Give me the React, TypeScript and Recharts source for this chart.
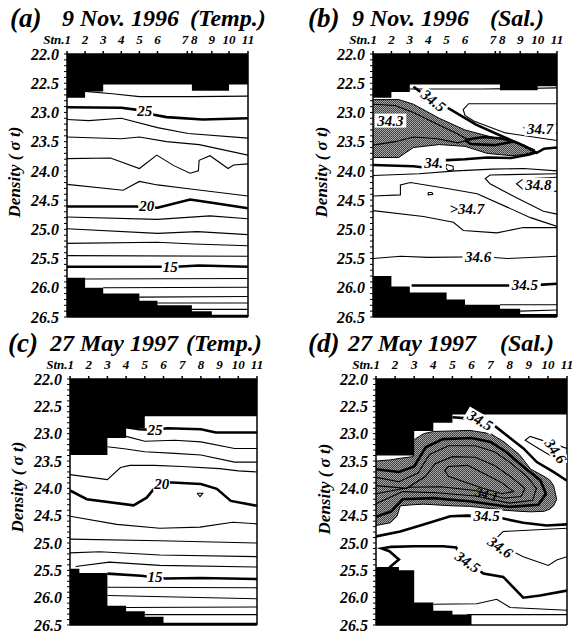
import React from 'react'
import { ComposedChart, XAxis, YAxis, Area, Scatter } from 'recharts'

type Pt = [number, number]
type Band = [number, number, number]
type Tag = [number, number, string, number?, boolean?]

const FONT = '"Liberation Serif", "Times New Roman", serif'

// station positions along each section (0 = Stn.1, 100 = Stn.11)
const STN_NOV = [0, 10, 20, 30, 40, 50, 66.5, 69, 80, 89.5, 100]
const STN_MAY = [0, 10, 20, 30, 40, 50, 60, 70, 80, 90, 100]
const STN_LABELS = ['Stn.1', '2', '3', '4', '5', '6', '7', '8', '9', '10', '11']
const DENSITY_MINOR = [
  22.0, 22.1, 22.2, 22.3, 22.4, 22.5, 22.6, 22.7, 22.8, 22.9,
  23.0, 23.1, 23.2, 23.3, 23.4, 23.5, 23.6, 23.7, 23.8, 23.9,
  24.0, 24.1, 24.2, 24.3, 24.4, 24.5, 24.6, 24.7, 24.8, 24.9,
  25.0, 25.1, 25.2, 25.3, 25.4, 25.5, 25.6, 25.7, 25.8, 25.9,
  26.0, 26.1, 26.2, 26.3, 26.4, 26.5,
]

// ---- (a) 9 Nov 1996 temperature ----
const A_TOP: Pt[] = [[0, 22.75], [10, 22.64], [20, 22.52], [69, 22.63], [89.5, 22.52], [100, 22.52]]
const A_BOT: Pt[] = [[0, 25.83], [10, 26.0], [20, 26.1], [40, 26.22], [50, 26.3], [69, 26.4], [80, 26.46], [100, 26.46]]
const A_26: Pt[] = [[10, 22.64], [25, 22.68], [40, 22.73], [70, 22.73], [100, 22.72]]
const A_25: Pt[] = [[0, 22.91], [30, 22.92], [40, 22.96], [48, 23.04], [55, 23.08], [75, 23.12], [100, 23.1]]
const A_24: Pt[] = [[0, 23.12], [12, 23.14], [30, 23.1], [50, 23.26], [67, 23.36], [100, 23.44]]
const A_23: Pt[] = [[0, 23.42], [30, 23.45], [40, 23.42], [55, 23.5], [73, 23.55], [100, 23.73]]
const A_22: Pt[] = [[0, 23.79], [24, 23.78], [40, 23.96], [49.6, 23.73], [59, 23.91], [68, 24.04], [72.6, 24.0], [73, 23.82], [79, 23.74], [89, 23.96], [92, 23.9], [100, 23.88]]
const A_21: Pt[] = [[0, 24.23], [31, 24.33], [40, 24.18], [50, 24.24], [66, 24.3], [100, 24.43]]
const A_20: Pt[] = [[0, 24.61], [38, 24.61], [50, 24.63], [68, 24.49], [81, 24.55], [100, 24.64]]
const A_19: Pt[] = [[0, 24.79], [50, 24.83], [79, 24.77], [100, 24.82]]
const A_18: Pt[] = [[0, 24.99], [50, 25.07], [72, 25.04], [100, 25.09]]
const A_17: Pt[] = [[0, 25.24], [50, 25.22], [70, 25.25], [100, 25.28]]
const A_16: Pt[] = [[0, 25.45], [100, 25.46]]
const A_15: Pt[] = [[0, 25.64], [60, 25.64], [73, 25.62], [100, 25.64]]
const A_14: Pt[] = [[10, 25.85], [100, 25.84]]
const A_13: Pt[] = [[20, 26.0], [100, 25.99]]
const A_12: Pt[] = [[40, 26.16], [100, 26.15]]
const A_11: Pt[] = [[50, 26.26], [100, 26.26]]
const A_10: Pt[] = [[69, 26.37], [100, 26.37]]
const A_TAGS: Tag[] = [[43, 22.98, '25'], [44, 24.6, '20'], [57, 25.64, '15']]

// ---- (b) 9 Nov 1996 salinity ----
const B_TOP: Pt[] = [[0, 22.75], [10, 22.65], [20, 22.52], [69, 22.62], [89.5, 22.55], [100, 22.55]]
const B_BOT: Pt[] = [[0, 25.8], [10, 25.98], [20, 26.08], [40, 26.2], [50, 26.29], [69, 26.36], [80, 26.45], [100, 26.45]]
const B_LOW: Band[] = [[0, 22.78, 23.77], [14, 22.78, 23.77], [22, 22.86, 23.6], [36, 23.1, 23.55], [50, 23.3, 23.58], [62, 23.4, 23.7], [75, 23.5, 23.74], [82, 23.56, 23.72], [88, 23.64, 23.67]]
const B_TOPLINE: Pt[] = [[20, 22.6], [60, 22.6], [100, 22.58]]
const B_345A: Pt[] = [[22, 22.56], [28, 22.7], [33, 22.82], [40, 22.91], [56, 23.21], [71, 23.42], [82, 23.57], [89, 23.69], [93, 23.62], [100, 23.6]]
const B_343: Pt[] = [[0, 22.86], [12, 22.88], [22, 23.0], [35, 23.2], [45, 23.35], [52, 23.47], [46, 23.52], [35, 23.45], [22, 23.42], [12, 23.5], [0, 23.56]]
const B_CORE: Pt[] = [[50, 23.47], [60, 23.42], [72, 23.45], [76, 23.5], [66, 23.56], [53, 23.54], [50, 23.47]]
const B_347A: Pt[] = [[100, 22.85], [52, 22.85], [49, 22.95], [50, 23.05], [55, 23.15], [72, 23.35], [100, 23.48]]
const B_347B: Pt[] = [[100, 23.2], [85, 23.19], [82, 23.26], [85, 23.33], [100, 23.35]]
const B_345B: Pt[] = [[0, 23.9], [22, 23.92], [30, 23.95], [38, 23.82], [50, 23.8], [62, 23.77], [75, 23.78], [85, 23.72], [89, 23.68]]
const B_DOT: Pt[] = [[40, 23.89], [43.5, 23.92], [43.7, 23.98], [41, 24.0], [39.5, 23.95], [40, 23.89]]
const B_346A: Pt[] = [[0, 24.08], [25, 24.05], [45, 24.0], [65, 23.97], [82, 23.96], [100, 24.0]]
const B_348A: Pt[] = [[100, 24.05], [63.6, 24.07], [61, 24.13], [63.6, 24.22], [78, 24.46], [92.6, 24.69], [100, 24.74]]
const B_348B: Pt[] = [[100, 24.11], [81.7, 24.14], [78, 24.22], [81.7, 24.32], [100, 24.35]]
const B_347C: Pt[] = [[0, 24.43], [14.9, 24.41], [14.9, 24.24], [20.3, 24.2], [40.3, 24.3], [56.6, 24.39], [72.9, 24.62], [85.6, 24.8], [100, 24.95]]
const B_DOT2: Pt[] = [[30, 24.37], [32, 24.37], [32.5, 24.4], [30, 24.41], [30, 24.37]]
const B_347D: Pt[] = [[0, 24.68], [27.4, 24.78], [43.7, 24.88], [49.1, 25.02], [67.3, 25.06], [81.7, 24.97], [100, 24.97]]
const B_346B: Pt[] = [[0, 25.5], [15, 25.46], [30, 25.48], [60, 25.47], [73, 25.5], [100, 25.46]]
const B_345C: Pt[] = [[21, 25.96], [70, 25.96], [82, 25.96], [90, 25.95], [100, 25.93]]
const B_344A: Pt[] = [[69, 26.29], [100, 26.29]]
const B_344B: Pt[] = [[80, 26.4], [100, 26.38]]
const B_TAGS: Tag[] = [[32.8, 22.8, '34.5', 38], [9.5, 23.14, '34.3'], [90.8, 23.28, '34.7'], [33, 23.87, '34.'], [89.9, 24.24, '34.8'], [51, 24.66, '>34.7'], [57.2, 25.47, '34.6'], [82.6, 25.96, '34.5']]

// ---- (c) 27 May 1997 temperature ----
const C_TOP: Pt[] = [[0, 23.39], [20, 23.08], [30, 22.9], [40, 22.68], [100, 22.68]]
const C_BOT: Pt[] = [[0, 25.47], [5, 25.55], [20, 26.15], [30, 26.25], [40, 26.35], [50, 26.46], [100, 26.46]]
const C_25: Pt[] = [[30, 22.88], [37, 22.92], [45, 22.93], [52, 22.9], [70, 22.92], [78, 22.98], [100, 22.98]]
const C_24: Pt[] = [[30, 23.05], [40, 23.14], [56, 23.12], [70, 23.15], [88, 23.27], [100, 23.27]]
const C_23: Pt[] = [[20, 23.24], [30, 23.28], [40, 23.33], [56, 23.36], [70, 23.39], [88, 23.52], [100, 23.52]]
const C_22: Pt[] = [[0, 23.75], [20, 23.84], [27, 23.62], [32, 23.58], [45, 23.58], [60, 23.6], [80, 23.64], [90, 23.68], [100, 23.7]]
const C_20: Pt[] = [[0, 24.04], [9, 24.2], [34, 24.31], [41, 24.17], [44.6, 24.02], [49, 23.93], [52, 23.89], [70, 23.92], [78.5, 24.01], [86, 24.23], [100, 24.32]]
const C_20B: Pt[] = [[68, 24.09], [71, 24.09], [69.5, 24.15], [68, 24.09]]
const C_19: Pt[] = [[0, 24.51], [25, 24.66], [48, 24.73], [69.5, 24.71], [87, 24.62], [100, 24.65]]
const C_18: Pt[] = [[0, 24.93], [48, 24.96], [100, 25.0]]
const C_17: Pt[] = [[0, 25.18], [16, 25.16], [48, 25.22], [100, 25.25]]
const C_16: Pt[] = [[3, 25.43], [21, 25.35], [48, 25.41], [100, 25.44]]
const C_15: Pt[] = [[20, 25.56], [38, 25.6], [51, 25.65], [70, 25.64], [100, 25.66]]
const C_14: Pt[] = [[20, 25.81], [100, 25.82]]
const C_13: Pt[] = [[20, 25.96], [100, 26.02]]
const C_12: Pt[] = [[30, 26.18], [100, 26.17]]
const C_11: Pt[] = [[40, 26.31], [100, 26.31]]
const C_TAGS: Tag[] = [[45.5, 22.93, '25'], [49, 23.92, '20'], [45.5, 25.62, '15']]

// ---- (d) 27 May 1997 salinity ----
const D_TOP: Pt[] = [[0, 23.4], [20, 22.95], [30, 22.8], [40, 22.65], [100, 22.65]]
const D_BOT: Pt[] = [[0, 25.44], [12, 25.5], [20, 26.09], [30, 26.24], [40, 26.31], [50, 26.5], [100, 26.5]]
const D_LOW: Band[] = [[0, 23.5, 24.68], [7.5, 23.48, 24.63], [11, 23.46, 24.51], [12.7, 23.45, 24.32], [19.5, 23.42, 24.3], [19.5, 23.12, 24.3], [25, 23.0, 24.29], [30, 22.96, 24.3], [40, 22.95, 24.32], [49, 22.94, 24.33], [60, 23.0, 24.37], [67, 23.15, 24.4], [75, 23.38, 24.42], [81, 23.65, 24.43], [88, 23.78, 24.42], [91, 23.85, 24.38], [93, 23.95, 24.32], [94.6, 24.2, 24.2]]
const D_345A: Pt[] = [[40, 22.7], [48, 22.72], [54.5, 22.74], [61.5, 22.84], [70.2, 23.08], [77.2, 23.27], [84.2, 23.52], [92.9, 23.7], [100, 23.86]]
const D_346A: Pt[] = [[100, 23.27], [80.7, 23.05], [78.1, 23.12], [85.1, 23.27], [92.9, 23.43], [100, 23.52]]
const D_345B: Pt[] = [[0, 24.88], [12.7, 24.79], [24.9, 24.66], [38.9, 24.51], [47.6, 24.5], [57.9, 24.51], [64.9, 24.54], [77.1, 24.63], [89.3, 24.68], [100, 24.66]]
const D_346B: Pt[] = [[100, 24.73], [66.6, 24.79], [64, 24.88], [58.8, 25.0], [66.6, 25.07], [77.1, 25.25], [90.2, 25.41], [94.6, 25.31], [100, 25.25]]
const D_345C: Pt[] = [[7, 25.45], [12, 25.3], [7, 25.15], [3, 25.1], [8, 25.07], [20, 25.06], [35, 25.06], [42, 25.08], [44, 25.25], [47.6, 25.33], [56.2, 25.56], [66.6, 25.62], [77.1, 26.0], [85.9, 25.96], [100, 25.87]]
const D_344A: Pt[] = [[30, 26.12], [52.7, 26.11], [63.2, 26.03], [70.2, 26.18], [100, 26.23]]
const D_344B: Pt[] = [[47.6, 26.31], [100, 26.31]]
const D_344: Pt[] = [[0, 23.65], [12, 23.7], [20, 23.6], [26, 23.25], [35, 23.1], [50, 23.08], [60, 23.15], [68, 23.33], [77, 23.6], [86, 23.85], [89, 24.1], [85, 24.3], [70, 24.34], [50, 24.24], [30, 24.18], [14, 24.2], [8, 24.42], [0, 24.52]]
const D_343: Pt[] = [[0, 23.8], [12, 23.88], [22, 23.72], [28, 23.38], [38, 23.22], [52, 23.22], [62, 23.33], [70, 23.52], [79, 23.78], [84, 24.0], [82, 24.22], [70, 24.27], [52, 24.14], [32, 24.08], [14, 24.06], [0, 24.28]]
const D_342: Pt[] = [[0, 23.95], [16, 24.0], [26, 23.78], [31, 23.55], [40, 23.42], [52, 23.43], [62, 23.58], [71, 23.8], [78, 24.0], [76, 24.15], [67, 24.18], [52, 24.04], [34, 23.97], [18, 23.98], [0, 24.1]]
const D_341: Pt[] = [[38, 23.6], [48, 23.58], [56, 23.72], [66, 23.9], [72, 24.06], [66, 24.1], [56, 24.0], [46, 23.88], [38, 23.78], [36, 23.68], [38, 23.6]]
const D_TAGS: Tag[] = [[54.5, 22.76, '34.5', 30], [94, 23.32, '34.6', 55], [57.9, 24.51, '34.5'], [65, 25.08, '34.6', 35], [48, 25.35, '34.5', 35], [58, 24.1, '34.1', 15, true]]

const pts = (a: Pt[]) => a.map(([x, y]) => ({ x, y }))

function StnTick(props: any) {
  const { x, y, payload, stn, split } = props
  const i = stn.indexOf(payload.value)
  let anchor = 'middle'
  let dx = 0
  if (i === 0) { anchor = 'end'; dx = 4 }
  if (split && i === 6) { anchor = 'end'; dx = 1 }
  if (split && i === 7) { anchor = 'start'; dx = -1 }
  return (
    <text x={x + dx} y={y - 5} textAnchor={anchor} fontFamily={FONT} fontSize={13} fontWeight="bold" fontStyle="italic" fill="#000">
      {STN_LABELS[i]}
    </text>
  )
}

function TagShape(props: any) {
  const { cx, cy, payload } = props
  const w = payload.t.length * 7.4 + 2
  return (
    <g transform={`rotate(${payload.r || 0} ${cx} ${cy})`}>
      {!payload.clear && <rect x={cx - w / 2} y={cy - 7} width={w} height={14} fill="#fff" />}
      <text x={cx} y={cy + 5} textAnchor="middle" fontFamily={FONT} fontSize={payload.clear ? 13 : 15} fontWeight="bold" fontStyle="italic" fill="#000">
        {payload.t}
      </text>
    </g>
  )
}

const NoDot = () => <g />

type PanelProps = {
  id: string
  left: number
  top: number
  plotW: number
  plotH: number
  stn: number[]
  split: boolean
  topMask: Pt[]
  botMask: Pt[]
  low?: Band[]
  thin: Pt[][]
  thick: Pt[][]
  tags: Tag[]
}

function Panel({ id, left, top, plotW, plotH, stn, split, topMask, botMask, low, thin, thick, tags }: PanelProps) {
  const L = 66
  const T = 22
  const axisFont = { fontFamily: FONT, fontSize: 16, fontWeight: 'bold', fontStyle: 'italic', fill: '#000' }
  return (
    <div style={{ position: 'absolute', left: left - L, top: top - T }}>
      <ComposedChart width={L + plotW + 10} height={T + plotH + 10} margin={{ top: 4, right: 4, bottom: 2, left: 0 }}>
        <defs>
          <pattern id={`stip-${id}`} width="2" height="2" patternUnits="userSpaceOnUse">
            <rect width="2" height="2" fill="#a6a6a6" />
            <rect width="1" height="1" fill="#3a3a3a" />
            <rect x="1" y="1" width="1" height="1" fill="#4a4a4a" />
          </pattern>
        </defs>
        <XAxis
          orientation="top"
          type="number"
          dataKey="x"
          domain={[0, 100]}
          allowDataOverflow
          ticks={stn}
          interval={0}
          tickSize={3}
          tickMargin={2}
          height={18}
          axisLine={{ stroke: '#000', strokeWidth: 1.5 }}
          tickLine={{ stroke: '#000', strokeWidth: 1.5 }}
          tick={<StnTick stn={stn} split={split} />}
        />
        <XAxis
          xAxisId="b"
          orientation="bottom"
          type="number"
          dataKey="x"
          domain={[0, 100]}
          allowDataOverflow
          ticks={stn}
          interval={0}
          tickSize={4}
          height={8}
          tick={false}
          axisLine={{ stroke: '#000', strokeWidth: 1.5 }}
          tickLine={{ stroke: '#000', strokeWidth: 1.5 }}
        />
        <YAxis
          type="number"
          dataKey="y"
          reversed
          domain={[22, 26.5]}
          allowDataOverflow
          ticks={DENSITY_MINOR}
          interval={0}
          tickSize={3}
          tickMargin={5}
          width={L}
          axisLine={{ stroke: '#000', strokeWidth: 1.5 }}
          tickLine={{ stroke: '#000' }}
          tick={axisFont}
          tickFormatter={(v: number) => (Math.abs(v * 2 - Math.round(v * 2)) < 1e-6 ? v.toFixed(1) : '')}
        />
        <YAxis
          yAxisId="r"
          orientation="right"
          type="number"
          dataKey="y"
          reversed
          domain={[22, 26.5]}
          allowDataOverflow
          ticks={DENSITY_MINOR}
          interval={0}
          tickSize={3}
          width={6}
          tick={false}
          axisLine={{ stroke: '#000', strokeWidth: 1.5 }}
          tickLine={{ stroke: '#000' }}
        />
        {low && (
          <Area
            data={low.map(([x, lo, hi]) => ({ x, lo, hi }))}
            dataKey={(d: any) => [d.lo, d.hi]}
            type="linear"
            fill={`url(#stip-${id})`}
            fillOpacity={1}
            stroke="#000"
            strokeWidth={1}
            isAnimationActive={false}
          />
        )}
        {thin.map((c, i) => (
          <Scatter key={`t${i}`} data={pts(c)} fill="none" line={{ stroke: '#000', strokeWidth: 1.1 }} shape={NoDot} isAnimationActive={false} />
        ))}
        {thick.map((c, i) => (
          <Scatter key={`k${i}`} data={pts(c)} fill="none" line={{ stroke: '#000', strokeWidth: 2.6 }} shape={NoDot} isAnimationActive={false} />
        ))}
        <Area
          data={topMask.map(([x, y]) => ({ x, lo: 22, hi: y }))}
          dataKey={(d: any) => [d.lo, d.hi]}
          type="stepAfter"
          fill="#000"
          fillOpacity={1}
          stroke="none"
          isAnimationActive={false}
        />
        <Area
          data={botMask.map(([x, y]) => ({ x, lo: y, hi: 26.5 }))}
          dataKey={(d: any) => [d.lo, d.hi]}
          type="stepAfter"
          fill="#000"
          fillOpacity={1}
          stroke="none"
          isAnimationActive={false}
        />
        <Scatter
          data={tags.map(([x, y, t, r, clear]) => ({ x, y, t, r, clear }))}
          shape={TagShape}
          isAnimationActive={false}
        />
      </ComposedChart>
    </div>
  )
}

const titleStyle = { fontFamily: FONT, fontWeight: 'bold', fontStyle: 'italic', fill: '#000' } as const

function Overlay() {
  const yl = (x: number, y: number) => (
    <text x={x} y={y} transform={`rotate(-90 ${x} ${y})`} textAnchor="middle" dominantBaseline="middle" fontSize={17} {...titleStyle}>
      Density ( σ t)
    </text>
  )
  return (
    <svg width={577} height={634} style={{ position: 'absolute', left: 0, top: 0, pointerEvents: 'none' }}>
      <text x={10} y={27} fontSize={27} {...titleStyle}>(a)</text>
      <text x={62} y={26} fontSize={24} {...titleStyle}>9 Nov. 1996</text>
      <text x={190} y={26} fontSize={24} {...titleStyle}>(Temp.)</text>
      <text x={308} y={27} fontSize={27} {...titleStyle}>(b)</text>
      <text x={352} y={26} fontSize={24} {...titleStyle}>9 Nov. 1996</text>
      <text x={490} y={26} fontSize={24} {...titleStyle}>(Sal.)</text>
      <text x={8} y={352} fontSize={27} {...titleStyle}>(c)</text>
      <text x={50} y={351} fontSize={24} {...titleStyle}>27 May 1997</text>
      <text x={186} y={351} fontSize={24} {...titleStyle}>(Temp.)</text>
      <text x={308} y={352} fontSize={27} {...titleStyle}>(d)</text>
      <text x={348} y={351} fontSize={24} {...titleStyle}>27 May 1997</text>
      <text x={500} y={351} fontSize={24} {...titleStyle}>(Sal.)</text>
      {yl(16, 172)}
      {yl(323, 172)}
      {yl(19, 487)}
      {yl(326, 489)}
    </svg>
  )
}

export default function App() {
  return (
    <div style={{ position: 'absolute', left: 0, top: 0, width: 577, height: 634, overflow: 'hidden', background: '#fff' }}>
      <Panel
        id="a" left={67} top={54} plotW={181} plotH={263} stn={STN_NOV} split
        topMask={A_TOP} botMask={A_BOT}
        thin={[A_26, A_24, A_23, A_22, A_21, A_19, A_18, A_17, A_16, A_14, A_13, A_12, A_11, A_10]}
        thick={[A_25, A_20, A_15]}
        tags={A_TAGS}
      />
      <Panel
        id="b" left={373} top={54} plotW={184} plotH={263} stn={STN_NOV} split
        topMask={B_TOP} botMask={B_BOT} low={B_LOW}
        thin={[B_TOPLINE, B_343, B_347A, B_347B, B_DOT, B_346A, B_348A, B_348B, B_347C, B_DOT2, B_347D, B_346B, B_344A, B_344B]}
        thick={[B_345A, B_CORE, B_345B, B_345C]}
        tags={B_TAGS}
      />
      <Panel
        id="c" left={70} top={379} plotW={187} plotH={246} stn={STN_MAY} split={false}
        topMask={C_TOP} botMask={C_BOT}
        thin={[C_24, C_23, C_22, C_20B, C_19, C_18, C_17, C_16, C_14, C_13, C_12, C_11]}
        thick={[C_25, C_20, C_15]}
        tags={C_TAGS}
      />
      <Panel
        id="d" left={376} top={379} plotW={191} plotH={246} stn={STN_MAY} split={false}
        topMask={D_TOP} botMask={D_BOT} low={D_LOW}
        thin={[D_346A, D_346B, D_344A, D_344B, D_343, D_342, D_341]}
        thick={[D_345A, D_345B, D_345C, D_344]}
        tags={D_TAGS}
      />
      <Overlay />
    </div>
  )
}
